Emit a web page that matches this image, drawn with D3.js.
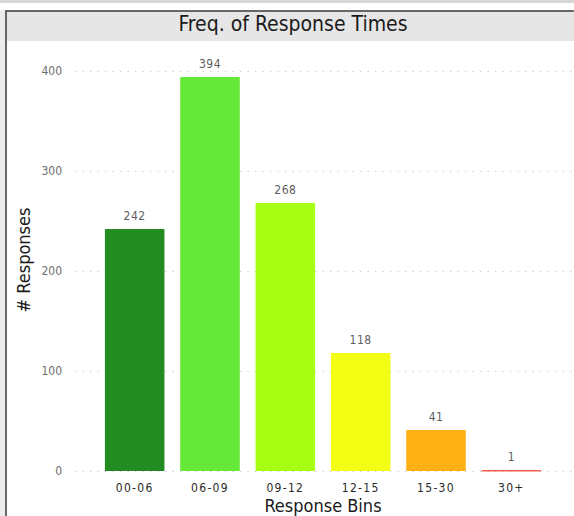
<!DOCTYPE html>
<html><head><meta charset="utf-8">
<script src="https://cdn.jsdelivr.net/npm/d3@7"></script>
<style>body{margin:0;background:#fff}svg{display:block}</style>
</head><body>
<svg id="c" width="574" height="516"></svg>
<script>
const categories = ["00-06","06-09","09-12","12-15","15-30","30+"];
const values = [242,394,268,118,41,1];
const colors = ["#228B22","#66E838","#A8FF14","#F2FF14","#FFB014","#F0604A"];
const yTicks = [0,100,200,300,400];
const title = "Freq. of Response Times";
const xTitle = "Response Bins";
const yTitle = "# Responses";

const svg = d3.select("#c");
const font = "'Liberation Sans Narrow','DejaVu Sans Condensed',sans-serif";
// frame
svg.append("rect").attr("x",0).attr("y",0).attr("width",574).attr("height",3).attr("fill","#d6d6d6");
svg.append("rect").attr("x",0).attr("y",10).attr("width",5).attr("height",506).attr("fill","#ececec");
svg.append("rect").attr("x",7).attr("y",12).attr("width",567).attr("height",29).attr("fill","#e6e6e6");
svg.append("rect").attr("x",5).attr("y",10).attr("width",569).attr("height",2).attr("fill","#666");
svg.append("rect").attr("x",5).attr("y",10).attr("width",2).attr("height",506).attr("fill","#666");
svg.append("text").attr("x",293).attr("y",31).attr("text-anchor","middle")
  .attr("font-family",font).attr("font-size",21).attr("fill","#1a1a1a").text(title);

const x = d3.scaleBand().domain(categories).range([97,549]).paddingInner(0.21).paddingOuter(0.105);
const y = d3.scaleLinear().domain([0,400]).range([471,71]);

// grid
const grid = svg.append("g");
yTicks.forEach(t=>{
  grid.append("line").attr("x1",75).attr("x2",574).attr("y1",y(t)+0.5).attr("y2",y(t)+0.5)
    .attr("stroke","#c8c8c8").attr("stroke-width",1.2).attr("stroke-dasharray","1.2,6.3");
});
const yAxis = d3.axisLeft(y).tickValues(yTicks).tickSize(0).tickPadding(0);
const gy = svg.append("g").attr("transform","translate(62,0)").call(yAxis);
gy.select(".domain").remove();
gy.selectAll("text").attr("font-family",font).attr("font-size",12).attr("fill","#6e6e6e");

// bars
svg.append("g").selectAll("rect").data(categories).join("rect")
  .attr("x",d=>x(d)).attr("width",x.bandwidth())
  .attr("y",(d,i)=>y(values[i])).attr("height",(d,i)=>Math.max(1.5,y(0)-y(values[i])))
  .attr("fill",(d,i)=>colors[i]);
svg.append("g").selectAll("text").data(categories).join("text")
  .attr("x",d=>x(d)+x.bandwidth()/2).attr("y",(d,i)=>y(values[i])-9)
  .attr("text-anchor","middle").attr("font-family",font).attr("font-size",12)
  .attr("fill","#5e5e5e").attr("letter-spacing",0.5).text((d,i)=>values[i]);

const xAxis = d3.axisBottom(x).tickSize(0).tickPadding(0);
const gx = svg.append("g").attr("transform","translate(0,492)").call(xAxis);
gx.select(".domain").remove();
gx.selectAll("text").attr("dy",0).attr("font-family",font).attr("font-size",12).attr("fill","#2a2a2a").attr("letter-spacing",1.3);

svg.append("text").attr("x",323).attr("y",512).attr("text-anchor","middle")
  .attr("font-family",font).attr("font-size",18).attr("fill","#1a1a1a").text(xTitle);
svg.append("text").attr("transform","translate(30,260) rotate(-90)").attr("text-anchor","middle")
  .attr("font-family",font).attr("font-size",18).attr("fill","#1a1a1a").text(yTitle);
</script>
</body></html>
